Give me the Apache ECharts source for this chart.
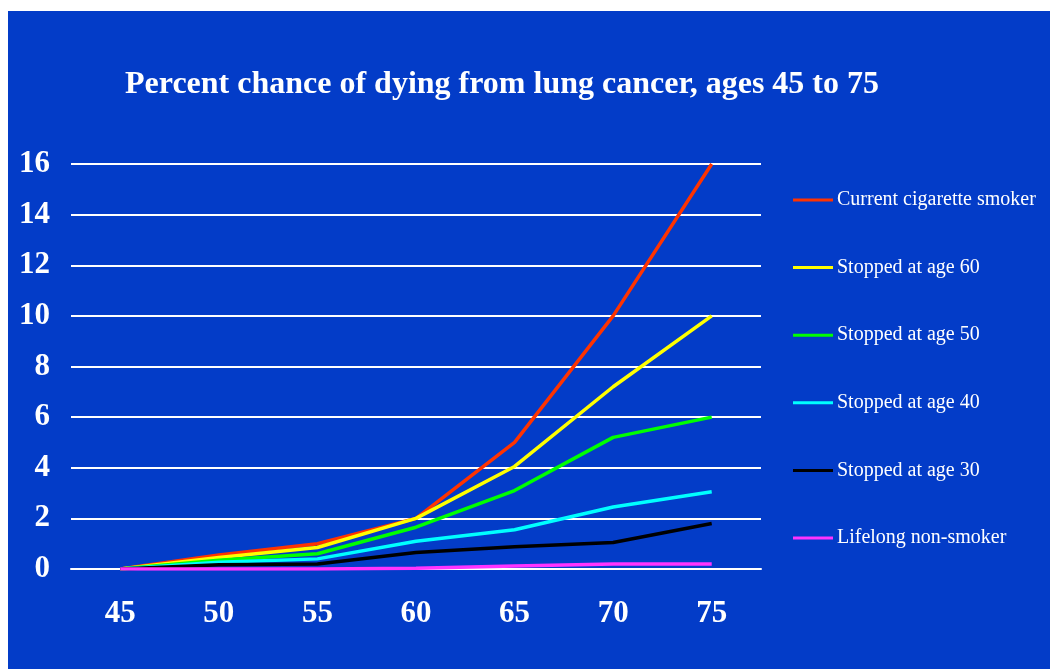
<!DOCTYPE html>
<html>
<head>
<meta charset="utf-8">
<script src="https://cdn.jsdelivr.net/npm/echarts@6/dist/echarts.min.js"></script>
<style>
    html, body { margin: 0; padding: 0; background: #ffffff; }
    #chart { position: absolute; left: 8px; top: 11px; width: 1042px; height: 658px; background: #033cc8; }
</style>
</head>
<body>
<div id="chart"></div>
<script>
// ages on the x axis
const ages = ["45", "50", "55", "60", "65", "70", "75"];

// percent chance of dying from lung cancer
const currentSmoker = [0, 0.55, 1.0, 2.0, 5.0, 10.0, 16.0];
const stopped60 = [0, 0.45, 0.85, 2.0, 4.05, 7.2, 10.0];
const stopped50 = [0, 0.35, 0.6, 1.65, 3.1, 5.2, 6.0];
const stopped40 = [0, 0.27, 0.4, 1.1, 1.55, 2.45, 3.05];
const stopped30 = [0, 0.17, 0.2, 0.65, 0.88, 1.05, 1.8];
const nonSmoker = [0, 0, 0, 0.03, 0.12, 0.2, 0.2];

const names = [
    "Current cigarette smoker",
    "Stopped at age 60",
    "Stopped at age 50",
    "Stopped at age 40",
    "Stopped at age 30",
    "Lifelong non-smoker",
];
const values = [currentSmoker, stopped60, stopped50, stopped40, stopped30, nonSmoker];
const colors = ["#ff3300", "#ffff00", "#00ff00", "#00ffff", "#000000", "#ff33ff"];

const serif = "'Liberation Serif', 'DejaVu Serif', serif";

const init = () => {
    const option = {
        color: colors,
        animation: false,
        title: {
            text: "Percent chance of dying from lung cancer, ages 45 to 75",
            left: 112,
            top: 53,
            textStyle: {
                color: "#ffffff",
                fontFamily: serif,
                fontWeight: "bold",
                fontSize: 32,
            },
        },
        legend: {
            orient: "vertical",
            left: 780,
            top: 174,
            icon: "rect",
            itemWidth: 40,
            itemHeight: 3,
            itemGap: 47.6,
            data: names,
            textStyle: {
                color: "#ffffff",
                fontFamily: serif,
                fontSize: 20,
                lineHeight: 20,
                padding: [0, 0, 0, -1],
            },
        },
        grid: {
            left: 63,
            right: 289,
            top: 153,
            bottom: 100,
        },
        xAxis: {
            type: "category",
            data: ages,
            boundaryGap: true,
            axisLine: {
                lineStyle: { color: "#ffffff", width: 2 },
            },
            axisTick: {
                length: 9,
                lineStyle: { color: "#ffffff", width: 2 },
            },
            axisLabel: {
                color: "#ffffff",
                fontFamily: serif,
                fontWeight: "bold",
                fontSize: 31,
                margin: 29,
            },
        },
        yAxis: {
            type: "value",
            min: 0,
            max: 16,
            interval: 2,
            axisLine: { show: false },
            axisTick: { show: false },
            axisLabel: {
                color: "#ffffff",
                fontFamily: serif,
                fontWeight: "bold",
                fontSize: 31,
                margin: 21,
            },
            splitLine: {
                lineStyle: { color: "#ffffff", width: 2 },
            },
        },
        series: names.map((name, i) => ({
            name: name,
            type: "line",
            data: values[i],
            symbol: "none",
            lineStyle: { width: 3.5, color: colors[i] },
        })),
    };
    const chart = echarts.init(document.getElementById("chart"));
    chart.setOption(option);
};
init();
</script>
</body>
</html>
